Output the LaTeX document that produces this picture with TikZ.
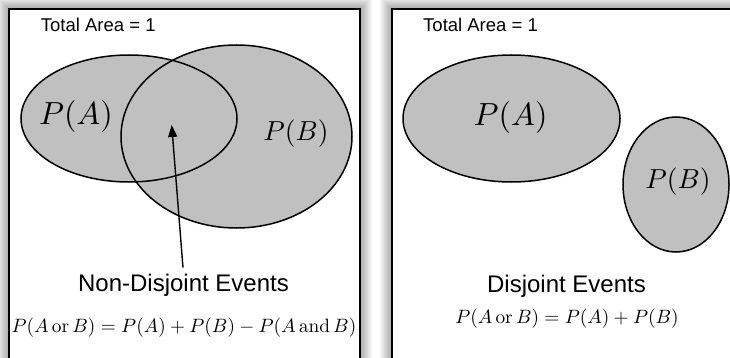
\documentclass[tikz,border=0pt]{standalone}
\usepackage[no-math]{fontspec}
\newfontfamily\labelfont{Liberation Sans}
\usetikzlibrary{shapes.geometric,arrows.meta}
\definecolor{setgray}{RGB}{192,192,192}
\tikzset{
  panel/.style={draw=black, line width=1.5pt, fill=white},
  setfill/.style={ellipse, inner sep=0pt, fill=setgray},
  outline/.style={line width=1.5pt},
  title/.style={font=\labelfont\fontsize{18.5}{22}\selectfont, anchor=base west, inner sep=0pt},
  caption/.style={font=\labelfont\fontsize{24}{28}\selectfont, anchor=base, inner sep=0pt},
  formula/.style={font=\fontsize{10}{12}\selectfont, scale=1.93, anchor=base, inner sep=0pt},
  biglabel/.style={font=\fontsize{10}{12}\selectfont, scale=3.2, inner sep=0pt},
  midlabel/.style={font=\fontsize{10}{12}\selectfont, scale=2.75, inner sep=0pt},
  pointer/.style={line width=1.4pt, -{Triangle[length=12pt,width=9pt]}},
}
\begin{document}
\begin{tikzpicture}[x=1pt,y=-1pt]
\useasboundingbox (0,0) rectangle (730,358);
\clip (0,0) rectangle (730,358);

% soft drop shadows behind both panels
\foreach \k in {1,...,12}{
  \fill[black, opacity=0.03] (9-\k,9-\k) rectangle (360+\k,400);
  \fill[black, opacity=0.03] (392-\k,9-\k) rectangle (760,400);
}

% panels
\draw[panel] (9,9) rectangle (360,400);
\draw[panel] (392,9) rectangle (760,400);

% ---- left panel: overlapping events ----
\node[title] (titleL) at (40.7,31.7) {Total Area = 1};
\node[setfill, minimum width=216pt, minimum height=127pt] (A1) at (129,118.5) {};
\node[setfill, minimum width=231pt, minimum height=183pt] (B1) at (236.5,136.5) {};
\draw[outline] (A1.center) ellipse [x radius=108, y radius=63.5];
\draw[outline] (B1.center) ellipse [x radius=115.5, y radius=91.5];
\node[biglabel] (pA1) at (76,117) {$P(A)$};
\node[midlabel] (pB1) at (296,134) {$P(B)$};

\node[caption] (capL) at (183.5,291.7) {Non-Disjoint Events};
\coordinate (overlap) at (171.7,125);
\draw[pointer, shorten <=6.5pt] (capL.north) -- (overlap);
\node[formula] (formL) at (184,332)
  {$P(A\,\mathrm{or}\,B)=P(A)+P(B)-P(A\,\mathrm{and}\,B)$};

% ---- right panel: disjoint events ----
\node[title] (titleR) at (423,31.7) {Total Area = 1};
\node[setfill, draw, line width=1.5pt, minimum width=217pt, minimum height=127pt] (A2) at (511.5,118.5) {};
\node[setfill, draw, line width=1.5pt, minimum width=106pt, minimum height=135pt] (B2) at (676,184.5) {};
\node[biglabel] (pA2) at (510.5,118) {$P(A)$};
\node[midlabel] (pB2) at (678,182) {$P(B)$};

\node[caption] (capR) at (566.5,292) {Disjoint Events};
\node[formula] (formR) at (567,323) {$P(A\,\mathrm{or}\,B)=P(A)+P(B)$};
\end{tikzpicture}
\end{document}
